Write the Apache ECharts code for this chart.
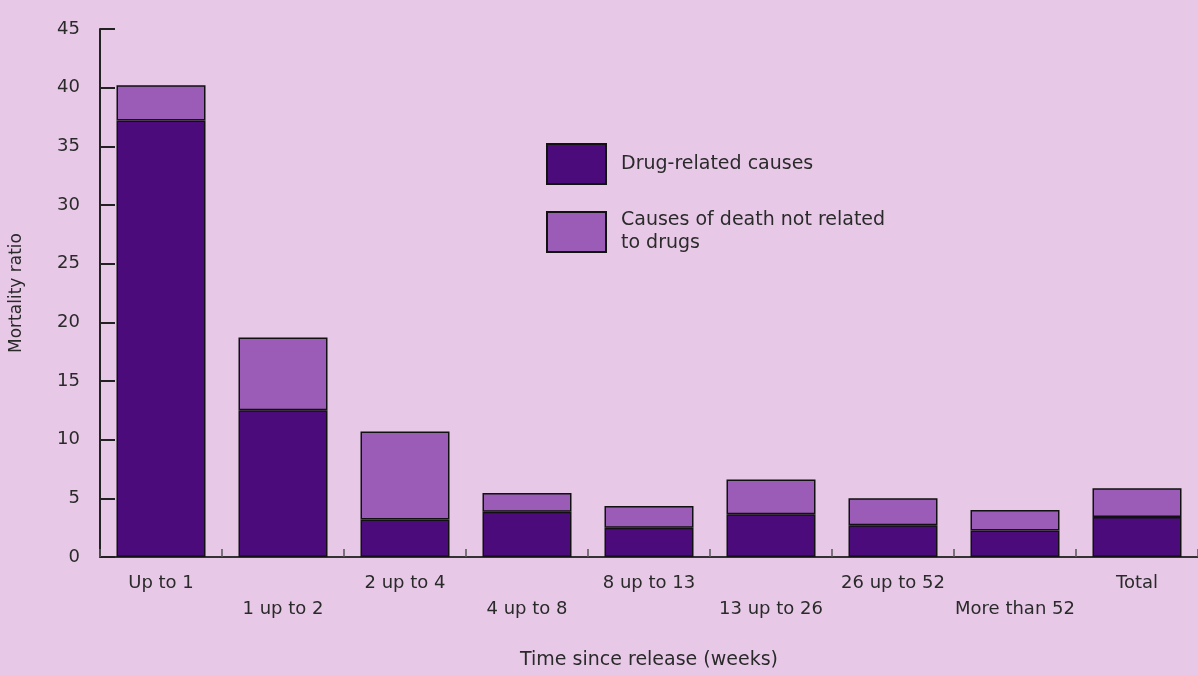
<!DOCTYPE html>
<html>
<head>
<meta charset="utf-8">
<script src="https://cdn.jsdelivr.net/npm/echarts@6/dist/echarts.min.js"></script>
<style>
html,body{margin:0;padding:0;background:#e7c9e7;}
#c{width:1198px;height:675px;}
</style>
</head>
<body>
<div id="c"></div>
<script>
const categories = ['Up to 1','1 up to 2','2 up to 4','4 up to 8','8 up to 13','13 up to 26','26 up to 52','More than 52','Total'];
const drugRelated = [37.2, 12.5, 3.2, 3.85, 2.5, 3.65, 2.7, 2.25, 3.4];
const notDrugRelated = [3.0, 6.2, 7.5, 1.6, 1.85, 2.95, 2.3, 1.75, 2.45];
const yTicks = [0,5,10,15,20,25,30,35,40,45];

const FONT = 'DejaVu Sans';
const chart = echarts.init(document.getElementById('c'));
chart.setOption({
  backgroundColor: '#e7c9e7',
  animation: false,
  textStyle: {fontFamily: FONT},
  grid: {left: 100, top: 29, bottom: 118, width: 1110, containLabel: false},
  legend: {
    orient: 'vertical',
    left: 541, top: 138,
    icon: 'rect',
    itemWidth: 59, itemHeight: 40, itemGap: 24,
    textStyle: {fontFamily: FONT, fontSize: 19, color: '#2a2a2a', lineHeight: 23, padding: [0,0,0,10]},
    data: ['Drug-related causes', 'Causes of death not related\nto drugs']
  },
  xAxis: {
    type: 'category',
    data: categories,
    boundaryGap: true,
    name: 'Time since release (weeks)',
    nameLocation: 'middle',
    nameGap: 94,
    nameTextStyle: {fontFamily: FONT, fontSize: 19, color: '#2a2a2a'},
    axisLine: {lineStyle: {color: '#333', width: 2}},
    axisTick: {show: true, inside: true, length: 8, lineStyle: {color: '#555', width: 1.5}},
    axisLabel: {
      fontFamily: FONT, fontSize: 18, color: '#2a2a2a', margin: 13, lineHeight: 26, interval: 0,
      formatter: function(v, i){ return i % 2 === 1 ? '\n' + v : v; }
    }
  },
  yAxis: {
    type: 'value',
    min: 0, max: 45, interval: 5,
    name: 'Mortality ratio',
    nameLocation: 'middle',
    nameGap: 75,
    nameTextStyle: {fontFamily: FONT, fontSize: 17, color: '#2a2a2a'},
    splitLine: {show: false},
    axisLine: {show: true, lineStyle: {color: '#222', width: 2}},
    axisTick: {show: true, inside: true, length: 15, lineStyle: {color: '#222', width: 2}},
    axisLabel: {fontFamily: FONT, fontSize: 18, color: '#2a2a2a', margin: 20,
      formatter: function(v){ return yTicks.indexOf(v) >= 0 ? String(v) : ''; }}
  },
  series: [
    {
      name: 'Drug-related causes', type: 'bar', stack: 'a', barWidth: 89,
      data: drugRelated,
      itemStyle: {color: '#4b0b7b', borderColor: '#111', borderWidth: 1.5}
    },
    {
      name: 'Causes of death not related\nto drugs', type: 'bar', stack: 'a', barWidth: 89,
      data: notDrugRelated,
      itemStyle: {color: '#9a5cb6', borderColor: '#111', borderWidth: 1.5}
    }
  ]
});
</script>
</body>
</html>
